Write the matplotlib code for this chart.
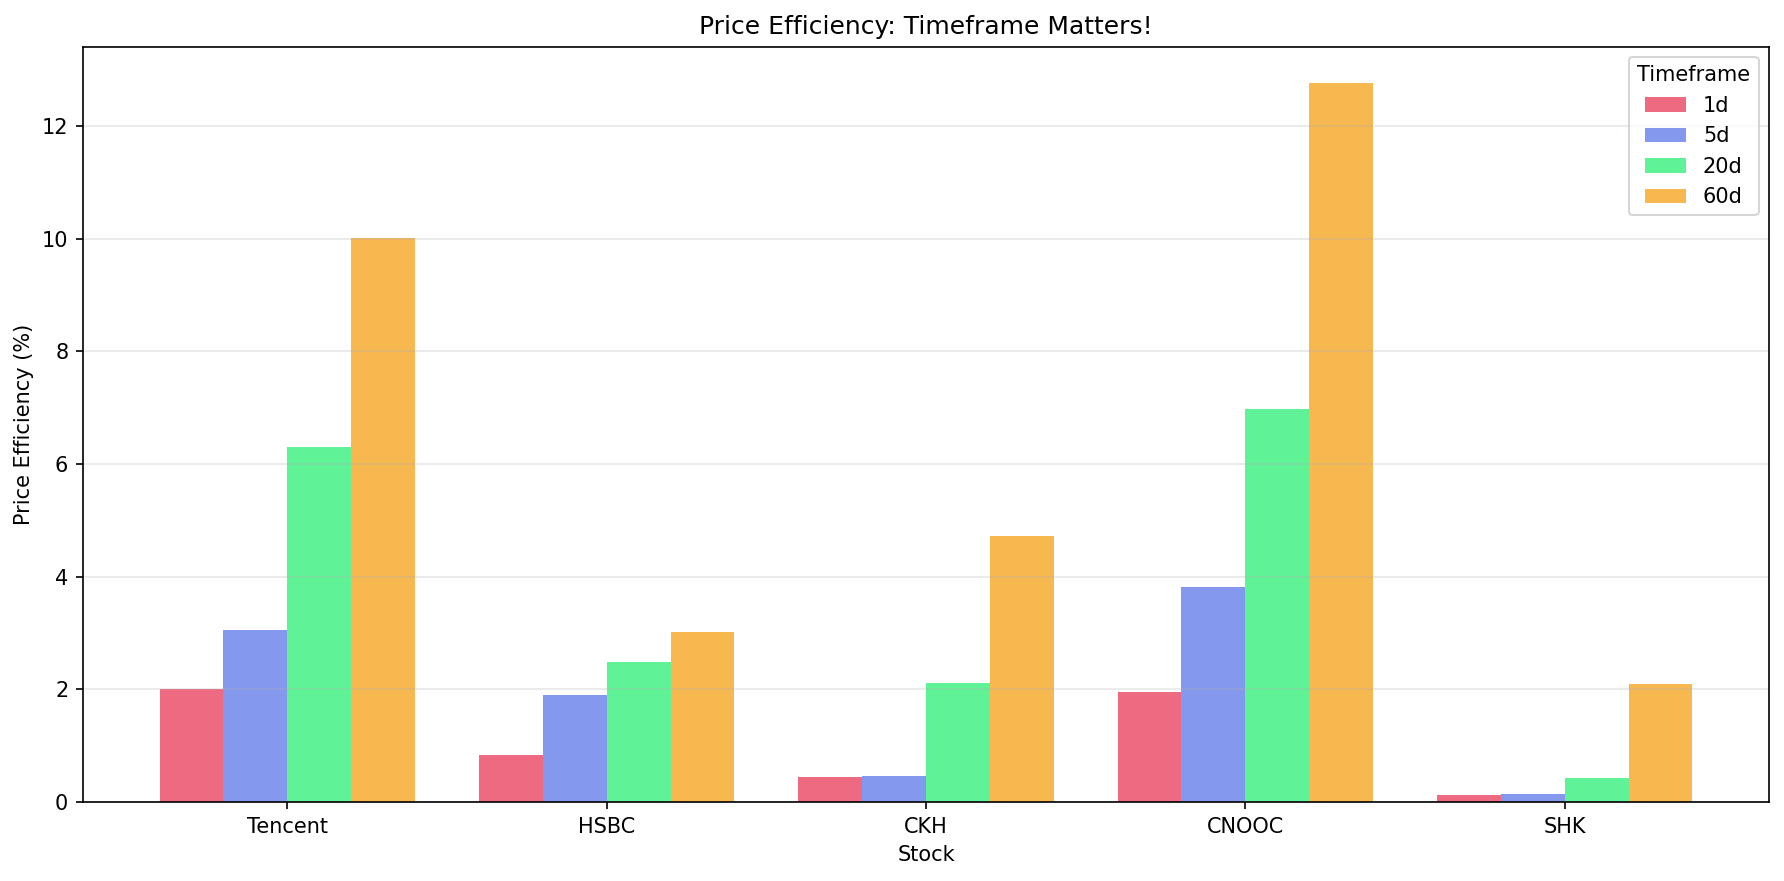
import numpy as np
import matplotlib
matplotlib.use("Agg")
import matplotlib.pyplot as plt

# Data
stocks = ["Tencent", "HSBC", "CKH", "CNOOC", "SHK"]
timeframes = ["1d", "5d", "20d", "60d"]
eff_1d = [2.00, 0.83, 0.44, 1.96, 0.12]
eff_5d = [3.05, 1.90, 0.46, 3.82, 0.14]
eff_20d = [6.30, 2.48, 2.12, 6.97, 0.42]
eff_60d = [10.02, 3.01, 4.73, 12.77, 2.10]

colors = ["#e94560", "#667eea", "#38ef7d", "#f5a623"]

fig, ax = plt.subplots(figsize=(1784 / 150, 881 / 150), dpi=150)
fig.subplots_adjust(left=0.0465, right=0.9916, top=0.947, bottom=0.0897)

x = np.arange(len(stocks))
width = 0.2
series = [eff_1d, eff_5d, eff_20d, eff_60d]
for i, (vals, tf) in enumerate(zip(series, timeframes)):
    ax.bar(x + (i - 1.5) * width, vals, width, label=tf, color=colors[i], alpha=0.8)

ax.set_xticks(x)
ax.set_xticklabels(stocks)
ax.set_xlabel("Stock")
ax.set_ylabel("Price Efficiency (%)")
ax.set_title("Price Efficiency: Timeframe Matters!")
ax.legend(title="Timeframe", loc="upper right")
ax.grid(True, axis="y", alpha=0.3)

fig.savefig("out.png", dpi=150)
